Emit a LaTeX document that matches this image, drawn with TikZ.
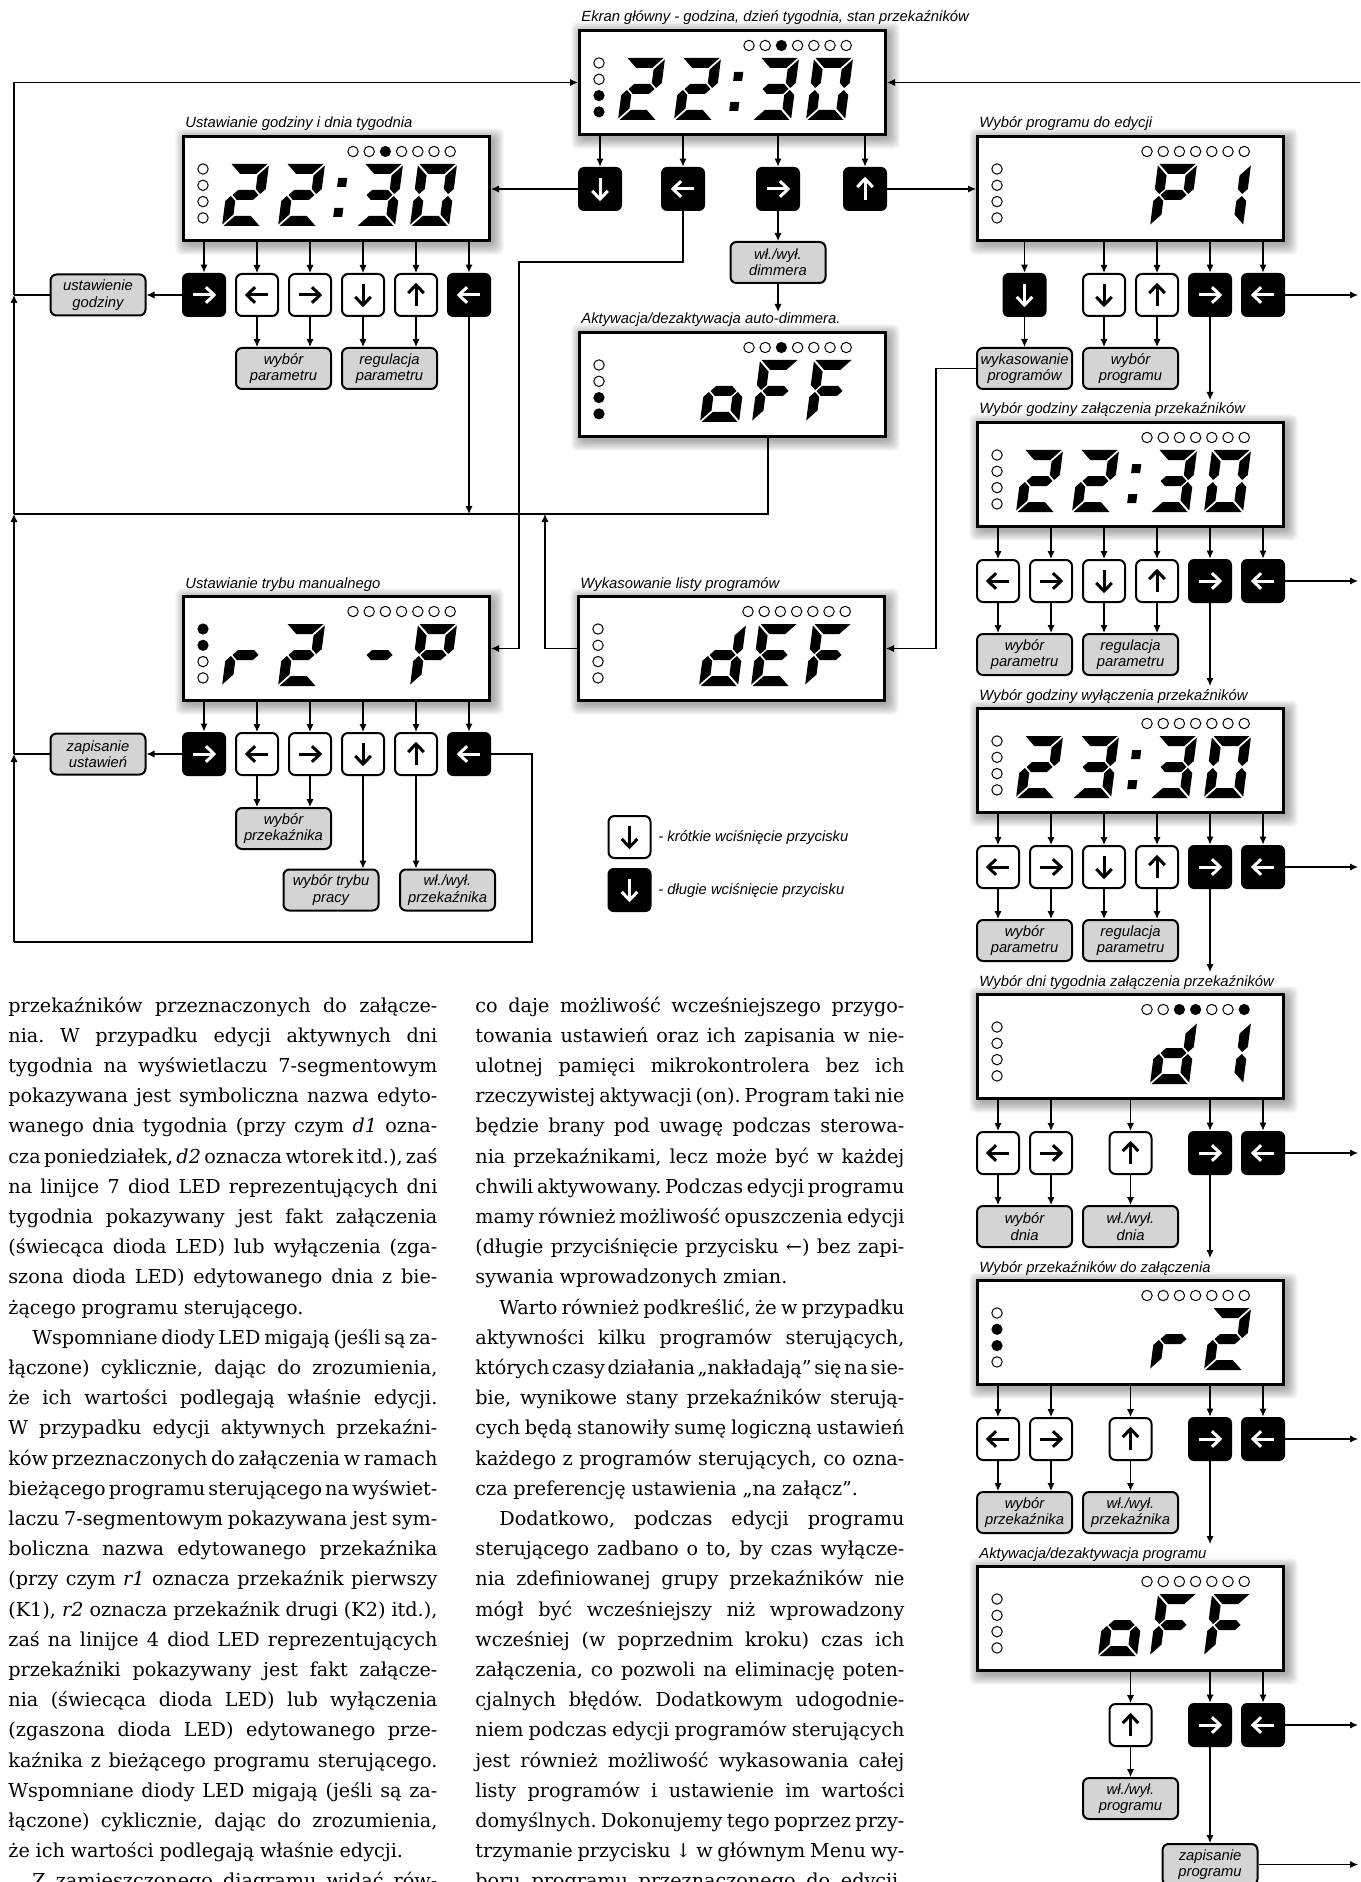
\documentclass[tikz,border=0pt]{standalone}
\usepackage{fontspec}
\setmainfont{DejaVu Serif}
\newfontfamily\dsans{Liberation Sans}
\usetikzlibrary{arrows.meta}
\newcommand\lblfont{\dsans\itshape\fontsize{7.4}{8.2}\selectfont}
\newcommand\bodyfont{\rmfamily\fontsize{9.6}{15.1}\selectfont}
\colorlet{fgb}{white}
\colorlet{fgw}{black}
\colorlet{lblgray}{black!17}
\newlength\colw
\setlength\colw{214.5pt}
\newcommand\tlj[1]{\hbox to\colw{#1}}
\newcommand\tle[1]{\hbox to\colw{#1\hfill}}
\newcommand\tli[1]{\hbox to\colw{\hskip12pt #1}}
% seven segment pieces (local px, origin bottom-left, y down)
\newcommand\sega{\fill (1.5,-62)--(37.5,-62)--(27.5,-52)--(11.5,-52)--cycle;}
\newcommand\segb{\fill (39,-60.5)--(29,-50.5)--(29,-37)--(34,-32)--(39,-37)--cycle;}
\newcommand\segc{\fill (39,-1.5)--(29,-11.5)--(29,-25)--(34,-30)--(39,-25)--cycle;}
\newcommand\segd{\fill (1.5,0)--(37.5,0)--(27.5,-10)--(11.5,-10)--cycle;}
\newcommand\sege{\fill (0,-1.5)--(10,-11.5)--(10,-25)--(5,-30)--(0,-25)--cycle;}
\newcommand\segf{\fill (0,-60.5)--(10,-50.5)--(10,-37)--(5,-32)--(0,-37)--cycle;}
\newcommand\segg{\fill (6.5,-31)--(11.5,-36)--(27.5,-36)--(32.5,-31)--(27.5,-26)--(11.5,-26)--cycle;}
\newcommand\dg[3]{\begin{scope}[shift={(#1.north west)},shift={(#2,91)},xslant=0.13]\foreach \q in {#3}{\csname seg\q\endcsname}\end{scope}}
\newcommand\lcdcolon[1]{\begin{scope}[shift={(#1.north west)},shift={(150,91)},xslant=0.13]\fill (0,-9) rectangle (9,-18);\fill (0,-39) rectangle (9,-48);\end{scope}}
\newcommand\leds[3]{\begin{scope}[shift={(#1.north west)}]
 \foreach \ledv [count=\ledi from 0] in {#2}{\ifnum\ledv=1\relax\fill ({171+16.2*\ledi},16.5) circle[radius=2.8pt];\else\draw[line width=0.5pt] ({171+16.2*\ledi},16.5) circle[radius=2.6pt];\fi}
 \foreach \ledv [count=\ledi from 0] in {#3}{\ifnum\ledv=1\relax\fill (21,{34+16.3*\ledi}) circle[radius=2.8pt];\else\draw[line width=0.5pt] (21,{34+16.3*\ledi}) circle[radius=2.6pt];\fi}
\end{scope}}
\newcommand\lcd[4]{%
 \foreach \s in {0,...,6}{\fill[black,opacity=0.05,rounded corners=3pt] ({#2+3-\s*1.6},{#3+3-\s*1.6}) rectangle ({#2+312+\s*1.6},{#3+110+\s*1.6});}
 \node[lcdbox] (#1) at (#2,#3) {};
 \node[captxt] (#1cap) at ({#2+3},{#3-7}) {#4};}
\newcommand\btn[5]{\node[btn#4] (#1) at (#2,#3) {};
 \begin{scope}[shift={(#1.center)},rotate=#5,line width=1.5pt,color=fg#4]
 \draw (-5.3pt,0pt)--(4.6pt,0pt);
 \draw[line join=miter] (1pt,3.9pt)--(5pt,0pt)--(1pt,-3.9pt);
 \end{scope}}
\newcommand\lbl[4]{\node[lblbox] (#1) at (#2,#3) {#4};}
\newcommand\feed[2]{\draw[conn] (#2.north |- #1.south) -- (#2.north);}
\newcommand\tolbl[2]{\draw[conn] (#1.south) -- (#1.south |- #2.north);}
\newcommand\clockA[1]{\dg{#1}{40}{a,b,g,e,d}\dg{#1}{96}{a,b,g,e,d}\lcdcolon{#1}\dg{#1}{174}{a,b,g,c,d}\dg{#1}{228}{a,b,c,d,e,f}}
\newcommand\clockB[1]{\dg{#1}{40}{a,b,g,e,d}\dg{#1}{96}{a,b,g,c,d}\lcdcolon{#1}\dg{#1}{174}{a,b,g,c,d}\dg{#1}{228}{a,b,c,d,e,f}}
\newcommand\oFF[1]{\dg{#1}{122}{c,d,e,g}\dg{#1}{174}{a,e,f,g}\dg{#1}{228}{a,e,f,g}}
\tikzset{
 lcdbox/.style={draw,line width=1.5pt,fill=white,minimum width=153pt,minimum height=52pt,inner sep=0pt,anchor=north west},
 btnw/.style={draw,line width=1pt,fill=white,rounded corners=3pt,minimum width=21pt,minimum height=21pt,inner sep=0pt},
 btnb/.style={fill=black,rounded corners=3pt,minimum width=22pt,minimum height=22pt,inner sep=0pt},
 lblbox/.style={draw,line width=1pt,fill=lblgray,rounded corners=3pt,minimum width=47.5pt,minimum height=20.5pt,inner sep=0pt,align=center,font=\lblfont},
 captxt/.style={anchor=base west,inner sep=0pt,font=\lblfont},
 conn/.style={line width=0.6pt,-{Latex[length=4pt,width=3.6pt]}},
 wire/.style={line width=0.6pt},
}
\begin{document}
\begin{tikzpicture}[x=0.5pt,y=-0.5pt]
\useasboundingbox (0,0) rectangle (1360,1882);
\clip (0,0) rectangle (1360,1882);
\fill[white] (0,0) rectangle (1360,1882);

% ---------- main screen
\lcd{M}{578}{29}{Ekran główny - godzina, dzień tygodnia, stan przekaźników}
\leds{M}{0,0,1,0,0,0,0}{0,0,1,1}
\clockA{M}
\btn{mb1}{600}{189}{b}{270}
\btn{mb2}{683}{189}{b}{180}
\btn{mb3}{778}{189}{b}{0}
\btn{mb4}{865}{189}{b}{90}
\lbl{Ldim}{778}{262.5}{wł./wył.\\dimmera}

% ---------- auto dimmer
\lcd{D}{578}{331}{Aktywacja/dezaktywacja auto-dimmera.}
\leds{D}{0,0,1,0,0,0,0}{0,0,1,1}
\oFF{D}

% ---------- time setting
\lcd{A}{182}{135}{Ustawianie godziny i dnia tygodnia}
\leds{A}{0,0,1,0,0,0,0}{0,0,0,0}
\clockA{A}
\btn{ab1}{204}{295}{b}{0}
\btn{ab2}{257}{295}{w}{180}
\btn{ab3}{310}{295}{w}{0}
\btn{ab4}{363}{295}{w}{270}
\btn{ab5}{416}{295}{w}{90}
\btn{ab6}{469}{295}{b}{180}
\lbl{Lust}{98}{295}{ustawienie\\godziny}
\lbl{Lwp1}{283.5}{368.5}{wybór\\parametru}
\lbl{Lrp1}{389.5}{368.5}{regulacja\\parametru}

% ---------- manual mode
\lcd{Man}{182}{595}{Ustawianie trybu manualnego}
\leds{Man}{0,0,0,0,0,0,0}{1,1,0,0}
\dg{Man}{40}{e,g}\dg{Man}{96}{a,b,g,e,d}\dg{Man}{174}{g}\dg{Man}{228}{a,b,e,f,g}
\btn{cb1}{204}{754}{b}{0}
\btn{cb2}{257}{754}{w}{180}
\btn{cb3}{310}{754}{w}{0}
\btn{cb4}{363}{754}{w}{270}
\btn{cb5}{416}{754}{w}{90}
\btn{cb6}{469}{754}{b}{180}
\lbl{Lzap}{98}{754}{zapisanie\\ustawień}
\lbl{Lwpk}{283.5}{828.5}{wybór\\przekaźnika}
\lbl{Lwtp}{331}{890}{wybór trybu\\pracy}
\lbl{Lwwp}{447.5}{890}{wł./wył.\\przekaźnika}

% ---------- delete list
\lcd{E}{577}{595}{Wykasowanie listy programów}
\leds{E}{0,0,0,0,0,0,0}{0,0,0,0}
\dg{E}{122}{b,c,d,e,g}\dg{E}{174}{a,d,e,f,g}\dg{E}{228}{a,e,f,g}

% ---------- legend
\btn{lgw}{629.5}{837}{w}{270}
\btn{lgb}{629.5}{890}{b}{270}
\node[captxt] (lgwt) at (658,841) {- krótkie wciśnięcie przycisku};
\node[captxt] (lgbt) at (658,894) {- długie wciśnięcie przycisku};

% ---------- right column
\lcd{R0}{976}{135}{Wybór programu do edycji}
\leds{R0}{0,0,0,0,0,0,0}{0,0,0,0}
\dg{R0}{174}{a,b,e,f,g}\dg{R0}{228}{b,c}
\btn{r0a}{1024.5}{295}{b}{270}
\btn{r0b}{1104}{295}{w}{270}
\btn{r0c}{1157}{295}{w}{90}
\btn{r0d}{1210}{295}{b}{0}
\btn{r0e}{1263}{295}{b}{180}
\lbl{Lwyk}{1024.5}{368.5}{wykasowanie\\programów}
\lbl{Lwpg}{1130.5}{368.5}{wybór\\programu}

\lcd{R1}{976}{421}{Wybór godziny załączenia przekaźników}
\leds{R1}{0,0,0,0,0,0,0}{0,0,0,0}
\clockA{R1}
\btn{r1a}{998}{581}{w}{180}
\btn{r1b}{1051}{581}{w}{0}
\btn{r1c}{1104}{581}{w}{270}
\btn{r1d}{1157}{581}{w}{90}
\btn{r1e}{1210}{581}{b}{0}
\btn{r1f}{1263}{581}{b}{180}
\lbl{L1a}{1024.5}{654.5}{wybór\\parametru}
\lbl{L1b}{1130.5}{654.5}{regulacja\\parametru}

\lcd{R2}{976}{707}{Wybór godziny wyłączenia przekaźników}
\leds{R2}{0,0,0,0,0,0,0}{0,0,0,0}
\clockB{R2}
\btn{r2a}{998}{867}{w}{180}
\btn{r2b}{1051}{867}{w}{0}
\btn{r2c}{1104}{867}{w}{270}
\btn{r2d}{1157}{867}{w}{90}
\btn{r2e}{1210}{867}{b}{0}
\btn{r2f}{1263}{867}{b}{180}
\lbl{L2a}{1024.5}{940.5}{wybór\\parametru}
\lbl{L2b}{1130.5}{940.5}{regulacja\\parametru}

\lcd{R3}{976}{993}{Wybór dni tygodnia załączenia przekaźników}
\leds{R3}{0,0,1,1,0,0,1}{0,0,0,0}
\dg{R3}{174}{b,c,d,e,g}\dg{R3}{228}{b,c}
\btn{r3a}{998}{1153}{w}{180}
\btn{r3b}{1051}{1153}{w}{0}
\btn{r3c}{1130.5}{1153}{w}{90}
\btn{r3e}{1210}{1153}{b}{0}
\btn{r3f}{1263}{1153}{b}{180}
\lbl{L3a}{1024.5}{1226.5}{wybór\\dnia}
\lbl{L3b}{1130.5}{1226.5}{wł./wył.\\dnia}

\lcd{R4}{976}{1279}{Wybór przekaźników do załączenia}
\leds{R4}{0,0,0,0,0,0,0}{0,1,1,0}
\dg{R4}{174}{e,g}\dg{R4}{228}{a,b,g,e,d}
\btn{r4a}{998}{1439}{w}{180}
\btn{r4b}{1051}{1439}{w}{0}
\btn{r4c}{1130.5}{1439}{w}{90}
\btn{r4e}{1210}{1439}{b}{0}
\btn{r4f}{1263}{1439}{b}{180}
\lbl{L4a}{1024.5}{1512.5}{wybór\\przekaźnika}
\lbl{L4b}{1130.5}{1512.5}{wł./wył.\\przekaźnika}

\lcd{R5}{976}{1565}{Aktywacja/dezaktywacja programu}
\leds{R5}{0,0,0,0,0,0,0}{0,0,0,0}
\oFF{R5}
\btn{r5c}{1130.5}{1725}{w}{90}
\btn{r5e}{1210}{1725}{b}{0}
\btn{r5f}{1263}{1725}{b}{180}
\lbl{L5b}{1130.5}{1798.5}{wł./wył.\\programu}
\lbl{Lzp}{1210}{1864.5}{zapisanie\\programu}

% ---------- helper coordinates
\coordinate (busA) at (14,295);
\coordinate (busB) at (14,514);
\coordinate (busC) at (14,754);
\coordinate (busD) at (14,942);
\coordinate (bus0) at (busA |- M.west);
\coordinate (k1) at (519,262);
\coordinate (dl) at (768,514);
\coordinate (ek) at (545,514);
\coordinate (wk) at (936,368.5);
\coordinate (mc) at (532,942);
\coordinate (dt) at (778,312);
\coordinate (rx) at (1358,0);
\coordinate (rbus) at (1366,0);
\coordinate (n1) at ([yshift=10.5pt]R1.north);
\coordinate (n2) at ([yshift=10.5pt]R2.north);
\coordinate (n3) at ([yshift=10.5pt]R3.north);
\coordinate (n4) at ([yshift=10.5pt]R4.north);
\coordinate (n5) at ([yshift=10.5pt]R5.north);

% ---------- connectors: main
\feed{M}{mb1}\feed{M}{mb2}\feed{M}{mb3}\feed{M}{mb4}
\draw[conn] (mb1.west) -- (mb1.west -| A.east);
\draw[conn] (mb4.east) -- (mb4.east -| R0.west);
\draw[conn] (mb2.south) |- (k1) |- (Man.east);
\draw[conn] (mb3.south) -- (Ldim.north);
\draw[conn] (Ldim.south) -- (dt);
\draw[conn] (M.east -| rbus) -- (M.east);
\draw[wire] (D.south -| dl) -- (dl) -- (busB);

% time setting
\feed{A}{ab1}\feed{A}{ab2}\feed{A}{ab3}\feed{A}{ab4}\feed{A}{ab5}\feed{A}{ab6}
\draw[conn] (ab1.west) -- (Lust.east);
\draw[wire] (Lust.west) -- (busA);
\tolbl{ab2}{Lwp1}\tolbl{ab3}{Lwp1}\tolbl{ab4}{Lrp1}\tolbl{ab5}{Lrp1}
\draw[conn] (ab6.south) -- (ab6.south |- busB);

% left bus
\draw[conn] (busA) -- (bus0) -- (M.west);
\draw[conn] (busB) -- (busA);
\draw[conn] (busC) -- (busB);
\draw[conn] (busD) -- (busC);

% manual
\feed{Man}{cb1}\feed{Man}{cb2}\feed{Man}{cb3}\feed{Man}{cb4}\feed{Man}{cb5}\feed{Man}{cb6}
\draw[conn] (cb1.west) -- (Lzap.east);
\draw[wire] (Lzap.west) -- (busC);
\tolbl{cb2}{Lwpk}\tolbl{cb3}{Lwpk}\tolbl{cb4}{Lwtp}\tolbl{cb5}{Lwwp}
\draw[wire] (cb6.east) -| (mc) -- (busD);

% delete list
\draw[conn] (E.west) -| (ek);
\draw[conn] (Lwyk.west) -- (wk) |- (E.east);

% right column
\feed{R0}{r0a}\feed{R0}{r0b}\feed{R0}{r0c}\feed{R0}{r0d}\feed{R0}{r0e}
\tolbl{r0a}{Lwyk}\tolbl{r0b}{Lwpg}\tolbl{r0c}{Lwpg}
\draw[conn] (r0d.south) -- (r0d.south |- n1);
\draw[conn] (r0e.east) -- (r0e.east -| rx);

\feed{R1}{r1a}\feed{R1}{r1b}\feed{R1}{r1c}\feed{R1}{r1d}\feed{R1}{r1e}\feed{R1}{r1f}
\tolbl{r1a}{L1a}\tolbl{r1b}{L1a}\tolbl{r1c}{L1b}\tolbl{r1d}{L1b}
\draw[conn] (r1e.south) -- (r1e.south |- n2);
\draw[conn] (r1f.east) -- (r1f.east -| rx);

\feed{R2}{r2a}\feed{R2}{r2b}\feed{R2}{r2c}\feed{R2}{r2d}\feed{R2}{r2e}\feed{R2}{r2f}
\tolbl{r2a}{L2a}\tolbl{r2b}{L2a}\tolbl{r2c}{L2b}\tolbl{r2d}{L2b}
\draw[conn] (r2e.south) -- (r2e.south |- n3);
\draw[conn] (r2f.east) -- (r2f.east -| rx);

\feed{R3}{r3a}\feed{R3}{r3b}\feed{R3}{r3c}\feed{R3}{r3e}\feed{R3}{r3f}
\tolbl{r3a}{L3a}\tolbl{r3b}{L3a}\tolbl{r3c}{L3b}
\draw[conn] (r3e.south) -- (r3e.south |- n4);
\draw[conn] (r3f.east) -- (r3f.east -| rx);

\feed{R4}{r4a}\feed{R4}{r4b}\feed{R4}{r4c}\feed{R4}{r4e}\feed{R4}{r4f}
\tolbl{r4a}{L4a}\tolbl{r4b}{L4a}\tolbl{r4c}{L4b}
\draw[conn] (r4e.south) -- (r4e.south |- n5);
\draw[conn] (r4f.east) -- (r4f.east -| rx);

\feed{R5}{r5c}\feed{R5}{r5e}\feed{R5}{r5f}
\tolbl{r5c}{L5b}
\draw[conn] (r5e.south) -- (Lzp.north);
\draw[conn] (r5f.east) -- (r5f.east -| rx);
\draw[conn] (Lzp.east) -- (Lzp.east -| rx);

% ---------- body text
\node[anchor=base west,inner sep=0pt] (txtL) at (8,1012) {\vtop{\bodyfont\frenchspacing
\spaceskip=0.3em plus 1fil minus 0.18em\baselineskip=15.1pt\lineskiplimit=-100pt\lineskip=0pt
\tlj{przekaźników przeznaczonych do załącze-}
\tlj{nia. W przypadku edycji aktywnych dni}
\tlj{tygodnia na wyświetlaczu 7-segmentowym}
\tlj{pokazywana jest symboliczna nazwa edyto-}
\tlj{wanego dnia tygodnia (przy czym \textit{d1} ozna-}
\tlj{cza poniedziałek, \textit{d2} oznacza wtorek itd.), zaś}
\tlj{na linijce 7 diod LED reprezentujących dni}
\tlj{tygodnia pokazywany jest fakt załączenia}
\tlj{(świecąca dioda LED) lub wyłączenia (zga-}
\tlj{szona dioda LED) edytowanego dnia z bie-}
\tle{żącego programu sterującego.}
\tli{Wspomniane diody LED migają (jeśli są za-}
\tlj{łączone) cyklicznie, dając do zrozumienia,}
\tlj{że ich wartości podlegają właśnie edycji.}
\tlj{W przypadku edycji aktywnych przekaźni-}
\tlj{ków przeznaczonych do załączenia w ramach}
\tlj{bieżącego programu sterującego na wyświet-}
\tlj{laczu 7-segmentowym pokazywana jest sym-}
\tlj{boliczna nazwa edytowanego przekaźnika}
\tlj{(przy czym \textit{r1} oznacza przekaźnik pierwszy}
\tlj{(K1), \textit{r2} oznacza przekaźnik drugi (K2) itd.),}
\tlj{zaś na linijce 4 diod LED reprezentujących}
\tlj{przekaźniki pokazywany jest fakt załącze-}
\tlj{nia (świecąca dioda LED) lub wyłączenia}
\tlj{(zgaszona dioda LED) edytowanego prze-}
\tlj{kaźnika z bieżącego programu sterującego.}
\tlj{Wspomniane diody LED migają (jeśli są za-}
\tlj{łączone) cyklicznie, dając do zrozumienia,}
\tle{że ich wartości podlegają właśnie edycji.}
\tli{Z zamieszczonego diagramu widać rów-}
}};
\node[anchor=base west,inner sep=0pt] (txtR) at (475,1012) {\vtop{\bodyfont\frenchspacing
\spaceskip=0.3em plus 1fil minus 0.18em\baselineskip=15.1pt\lineskiplimit=-100pt\lineskip=0pt
\tlj{co daje możliwość wcześniejszego przygo-}
\tlj{towania ustawień oraz ich zapisania w nie-}
\tlj{ulotnej pamięci mikrokontrolera bez ich}
\tlj{rzeczywistej aktywacji (on). Program taki nie}
\tlj{będzie brany pod uwagę podczas sterowa-}
\tlj{nia przekaźnikami, lecz może być w każdej}
\tlj{chwili aktywowany. Podczas edycji programu}
\tlj{mamy również możliwość opuszczenia edycji}
\tlj{(długie przyciśnięcie przycisku ←) bez zapi-}
\tle{sywania wprowadzonych zmian.}
\tli{Warto również podkreślić, że w przypadku}
\tlj{aktywności kilku programów sterujących,}
\tlj{których czasy działania „nakładają” się na sie-}
\tlj{bie, wynikowe stany przekaźników sterują-}
\tlj{cych będą stanowiły sumę logiczną ustawień}
\tlj{każdego z programów sterujących, co ozna-}
\tle{cza preferencję ustawienia „na załącz”.}
\tli{Dodatkowo, podczas edycji programu}
\tlj{sterującego zadbano o to, by czas wyłącze-}
\tlj{nia zdefiniowanej grupy przekaźników nie}
\tlj{mógł być wcześniejszy niż wprowadzony}
\tlj{wcześniej (w poprzednim kroku) czas ich}
\tlj{załączenia, co pozwoli na eliminację poten-}
\tlj{cjalnych błędów. Dodatkowym udogodnie-}
\tlj{niem podczas edycji programów sterujących}
\tlj{jest również możliwość wykasowania całej}
\tlj{listy programów i ustawienie im wartości}
\tlj{domyślnych. Dokonujemy tego poprzez przy-}
\tlj{trzymanie przycisku ↓ w głównym Menu wy-}
\tlj{boru programu przeznaczonego do edycji.}
}};
\end{tikzpicture}
\end{document}
